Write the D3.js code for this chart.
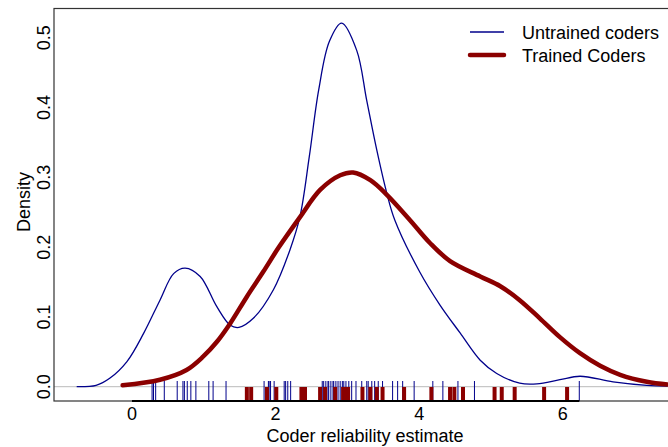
<!DOCTYPE html>
<html>
<head>
<meta charset="utf-8">
<script src="https://cdn.jsdelivr.net/npm/d3@7"></script>
<style>
body { margin: 0; background: #fff; }
text { font-family: "Liberation Sans", Arial, sans-serif; fill: #000; }
</style>
</head>
<body>
<script>
// density curves
var untrainedX = [-0.77, -0.5, -0.31, -0.07, 0.16, 0.39, 0.58, 0.74, 0.95, 1.18, 1.37, 1.49, 1.69, 1.97, 2.2, 2.34, 2.47, 2.6, 2.75, 2.92, 3.13, 3.27, 3.41, 3.55, 3.66, 4.01, 4.29, 4.57, 4.85, 5.08, 5.4, 5.64, 5.96, 6.24, 6.7, 7.17, 7.46];
var untrainedY = [0, 0.002, 0.012, 0.036, 0.076, 0.124, 0.162, 0.17, 0.158, 0.115, 0.088, 0.085, 0.098, 0.139, 0.196, 0.244, 0.33, 0.425, 0.495, 0.521, 0.482, 0.41, 0.339, 0.277, 0.239, 0.164, 0.117, 0.077, 0.038, 0.019, 0.005, 0.004, 0.01, 0.015, 0.007, 0.002, 0.001];

var trainedX = [-0.13, 0.39, 0.76, 0.99, 1.18, 1.37, 1.6, 1.83, 2.04, 2.34, 2.62, 2.9, 3.08, 3.32, 3.55, 3.87, 4.15, 4.43, 4.85, 5.13, 5.4, 5.68, 5.96, 6.24, 6.52, 6.8, 7.17, 7.46];
var trainedY = [0.002, 0.01, 0.024, 0.043, 0.064, 0.091, 0.129, 0.165, 0.199, 0.243, 0.282, 0.303, 0.307, 0.296, 0.275, 0.239, 0.206, 0.18, 0.158, 0.144, 0.124, 0.098, 0.071, 0.048, 0.03, 0.017, 0.007, 0.003];

// rug values
var untrainedRug = [0.28, 0.3, 0.33, 0.45, 0.63, 0.71, 0.73, 0.77, 0.82, 0.89, 1.07, 1.13, 1.31, 1.84, 1.9, 1.91, 1.93, 1.98, 2.12, 2.14, 2.17, 2.21, 2.65, 2.67, 2.7, 2.73, 2.74, 2.77, 2.8, 2.81, 2.84, 2.87, 2.9, 2.93, 2.95, 2.98, 3.02, 3.06, 3.12, 3.2, 3.27, 3.29, 3.34, 3.38, 3.43, 3.49, 3.63, 3.7, 3.77, 3.93, 4.19, 4.33, 4.54, 4.77, 6.23];
var trainedRug = [1.6, 1.66, 1.88, 2.01, 2.36, 2.41, 2.62, 2.69, 2.83, 2.94, 2.98, 3.01, 3.21, 3.32, 3.41, 3.49, 3.79, 4.17, 4.43, 4.49, 4.61, 5.05, 5.15, 5.33, 5.74, 6.06];

var xTicks = [0, 2, 4, 6];
var yTicks = [0, 0.1, 0.2, 0.3, 0.4, 0.5];
var legendLabels = ["Untrained coders", "Trained Coders"];

var width = 668, height = 447;
var blue = "#00008b", red = "#8b0000";

var svg = d3.select("body").append("svg")
    .attr("width", width)
    .attr("height", height);

var x = d3.scaleLinear().domain([-1.086, 7.6]).range([54, 54 + 8.686 * 71.8]);
var y = d3.scaleLinear().domain([-0.0205, 0.542]).range([401, 8.5]);

// zero line
svg.append("line")
	.attr("x1", x.range()[0]).attr("x2", width)
	.attr("y1", y(0)).attr("y2", y(0))
	.style("stroke", "#bbb").style("stroke-width", 1);

// rugs
svg.selectAll(".rugU").data(untrainedRug).enter().append("line")
	.attr("class", "rugU")
	.attr("x1", function(d) { return x(d); }).attr("x2", function(d) { return x(d); })
	.attr("y1", 381).attr("y2", 401)
	.style("stroke", blue).style("stroke-width", 1);

svg.selectAll(".rugT").data(trainedRug).enter().append("line")
	.attr("class", "rugT")
	.attr("x1", function(d) { return x(d); }).attr("x2", function(d) { return x(d); })
	.attr("y1", 387).attr("y2", 401)
	.style("stroke", red).style("stroke-width", 4);

// curves
var line = d3.line()
	.x(function(d) { return x(d[0]); })
	.y(function(d) { return y(d[1]); })
	.curve(d3.curveCatmullRom.alpha(0.5));

svg.append("path")
	.datum(d3.zip(untrainedX, untrainedY))
	.attr("d", line)
	.style("fill", "none").style("stroke", blue).style("stroke-width", 1.3);

svg.append("path")
	.datum(d3.zip(trainedX, trainedY))
	.attr("d", line)
	.style("fill", "none").style("stroke", red).style("stroke-width", 4.5)
	.style("stroke-linecap", "round");

// box
svg.append("rect")
	.attr("x", x.range()[0]).attr("y", y.range()[1])
	.attr("width", x.range()[1] - x.range()[0])
	.attr("height", y.range()[0] - y.range()[1])
	.style("fill", "none").style("stroke", "#333").style("stroke-width", 1.2);

// bottom axis segment
svg.append("line")
	.attr("x1", x(0)).attr("x2", x(d3.max(untrainedRug)))
	.attr("y1", 401).attr("y2", 401)
	.style("stroke", "#000").style("stroke-width", 2);

// tick labels
svg.selectAll(".xt").data(xTicks).enter().append("text")
	.attr("class", "xt")
	.attr("x", function(d) { return x(d); })
	.attr("y", 419.5)
	.attr("text-anchor", "middle")
	.style("font-size", "18px")
	.text(function(d) { return d; });

svg.selectAll(".yt").data(yTicks).enter().append("text")
	.attr("class", "yt")
	.attr("transform", function(d) { return "translate(50," + y(d) + ") rotate(-90)"; })
	.attr("text-anchor", "middle")
	.style("font-size", "18px")
	.text(function(d) { return d.toFixed(1); });

svg.append("text")
	.attr("x", 365).attr("y", 442)
	.attr("text-anchor", "middle")
	.style("font-size", "18px")
	.text("Coder reliability estimate");

svg.append("text")
	.attr("transform", "translate(30,202) rotate(-90)")
	.attr("text-anchor", "middle")
	.style("font-size", "18px")
	.text("Density");

// legend
var legend = svg.selectAll(".leg").data(legendLabels).enter().append("g")
	.attr("class", "leg")
	.attr("transform", function(d, i) { return "translate(470," + (32 + i * 23) + ")"; });

legend.append("line")
	.attr("x1", 0).attr("x2", 34)
	.style("stroke", function(d, i) { return i ? red : blue; })
	.style("stroke-width", function(d, i) { return i ? 4.5 : 1.3; })
	.style("stroke-linecap", function(d, i) { return i ? "round" : "butt"; });

legend.append("text")
	.attr("x", 52).attr("y", 6.5)
	.style("font-size", "18px")
	.text(function(d) { return d; });
</script>
</body>
</html>
